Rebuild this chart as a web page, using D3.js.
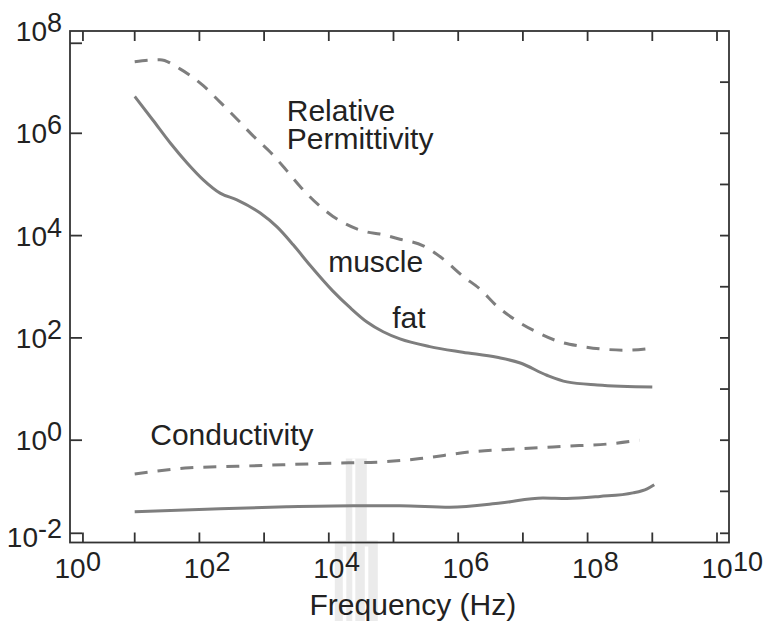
<!DOCTYPE html>
<html>
<head>
<meta charset="utf-8">
<script src="https://cdn.jsdelivr.net/npm/d3@7"></script>
<style>
  body { margin: 0; background: #fff; }
  text { font-family: "Liberation Sans", Arial, Helvetica, sans-serif; fill: #222; }
</style>
</head>
<body>
<svg id="chart" width="773" height="621"></svg>
<script>
// ---- data (log10 of frequency in Hz, log10 of value) ----
const musclePermFreq = [1.00, 1.39, 1.70, 2.06, 2.32, 2.58, 2.83, 3.09, 3.35, 3.55, 4.06, 4.59, 4.79, 5.10, 5.46, 5.77, 6.07, 6.34, 6.60, 6.91, 7.22, 7.53, 7.88, 8.24, 8.61, 9.00];
const musclePerm     = [7.40, 7.44, 7.26, 6.93, 6.61, 6.28, 5.95, 5.64, 5.27, 4.97, 4.38, 4.07, 4.03, 3.93, 3.80, 3.54, 3.21, 2.95, 2.62, 2.33, 2.11, 1.94, 1.84, 1.78, 1.76, 1.80];

const fatPermFreq = [1.00, 1.28, 1.55, 1.81, 2.06, 2.32, 2.58, 2.94, 3.20, 3.45, 3.71, 4.06, 4.33, 4.59, 4.84, 5.10, 5.56, 6.07, 6.60, 6.96, 7.37, 7.68, 8.15, 9.00];
const fatPerm     = [6.72, 6.26, 5.81, 5.42, 5.09, 4.83, 4.70, 4.44, 4.17, 3.82, 3.42, 2.92, 2.59, 2.31, 2.12, 1.98, 1.83, 1.72, 1.62, 1.51, 1.27, 1.14, 1.08, 1.04];

const muscleCondFreq = [1.00, 1.85, 2.58, 3.29, 4.02, 4.74, 5.41, 6.18, 6.91, 7.62, 8.35, 8.80];
const muscleCond     = [-0.66, -0.54, -0.51, -0.48, -0.45, -0.43, -0.36, -0.23, -0.17, -0.12, -0.07, 0.00];

const fatCondFreq = [1.00, 2.32, 3.35, 4.37, 5.10, 5.87, 6.65, 7.31, 7.68, 8.19, 8.70, 8.92, 9.03];
const fatCond     = [-1.40, -1.34, -1.30, -1.28, -1.28, -1.31, -1.23, -1.13, -1.14, -1.10, -1.03, -0.95, -0.87];

// ---- axis ticks (decade exponents) ----
const xLabelExps   = [0, 2, 4, 6, 8, 10];
const xTickExps    = [0.2, 1, 2, 3, 4, 5, 6, 7, 8, 9, 10];
const yLabelExps   = [0, 2, 4, 6, 8];
const yLabelLow    = { text: "-2", at: -1.9 };
const yLeftTicks   = [-1.82, 0, 2, 4, 6, 7.76];
const yRightTicks  = [-1.82, -1, 0, 1, 2, 3, 4, 5, 6, 7];

// ---- annotations (each entry may hold several lines) ----
const notes = [
  { lines: ["Relative", "Permittivity"], fx: 3.35, vy: 6.25 },
  { lines: ["muscle"],       fx: 3.99, vy: 3.28 },
  { lines: ["fat"],          fx: 4.98, vy: 2.19 },
  { lines: ["Conductivity"], fx: 1.24, vy: -0.09 }
];

const svg = d3.select("#chart");
const x = d3.scaleLog().domain([1, 1e10]).range([70, 717]);
const y = d3.scaleLog().domain([1e-2, 1e8]).range([542.5, 31]);
const P = e => Math.pow(10, e);

const fLeft = x(1), fRight = x(1e10) + 12, fTop = y(1e8), fBottom = y(1e-2);

// faint background mark near the 10^4 column
const wm = svg.append("g").attr("fill", "#ebebeb");
const wx = x(1e4);
wm.append("rect").attr("x", wx + 17).attr("y", fBottom - 84).attr("width", 21).attr("height", 88);
wm.append("rect").attr("x", wx + 6).attr("y", fBottom - 2).attr("width", 43).attr("height", 621 - fBottom + 2);
wm.append("rect").attr("x", wx + 23.5).attr("y", fBottom - 84).attr("width", 3).attr("height", 621 - fBottom + 84).attr("fill", "#fff");
wm.append("rect").attr("x", wx + 14).attr("y", fBottom + 4).attr("width", 3.5).attr("height", 621 - fBottom).attr("fill", "#fff");
wm.append("rect").attr("x", wx + 36).attr("y", fBottom + 4).attr("width", 3.5).attr("height", 621 - fBottom).attr("fill", "#fff");

// ---- curves ----
const line = d3.line()
  .x(d => x(P(d[0])))
  .y(d => y(P(d[1])))
  .curve(d3.curveMonotoneX);

const series = [
  { f: musclePermFreq, v: musclePerm, dashed: true },
  { f: fatPermFreq,    v: fatPerm,    dashed: false },
  { f: muscleCondFreq, v: muscleCond, dashed: true },
  { f: fatCondFreq,    v: fatCond,    dashed: false }
];
series.forEach(s => {
  svg.append("path")
    .datum(d3.zip(s.f, s.v))
    .attr("d", line)
    .attr("fill", "none")
    .attr("stroke", "#7e7e7e")
    .attr("stroke-width", 3)
    .attr("stroke-dasharray", s.dashed ? "13 10" : null)
    .attr("stroke-linecap", "butt");
});

// ---- frame and ticks ----
const frame = svg.append("g").attr("stroke", "#333").attr("stroke-width", 1.8).attr("fill", "none");
frame.append("rect").attr("x", fLeft).attr("y", fTop).attr("width", fRight - fLeft).attr("height", fBottom - fTop);

xTickExps.forEach(e => {
  const xx = x(P(e));
  frame.append("line").attr("x1", xx).attr("x2", xx).attr("y1", fBottom).attr("y2", fBottom - 10);
  frame.append("line").attr("x1", xx).attr("x2", xx).attr("y1", fTop).attr("y2", fTop + 10);
});
yLeftTicks.forEach(e => {
  const yy = y(P(e));
  frame.append("line").attr("x1", fLeft).attr("x2", fLeft + 12).attr("y1", yy).attr("y2", yy);
});
yRightTicks.forEach(e => {
  const yy = y(P(e));
  frame.append("line").attr("x1", fRight).attr("x2", fRight - 9).attr("y1", yy).attr("y2", yy);
});

// ---- tick labels ----
const baseSize = 28, supSize = 27;

xLabelExps.forEach(e => {
  const xx = x(P(e));
  const base = svg.append("text")
    .attr("x", xx).attr("y", 578)
    .attr("text-anchor", "middle")
    .attr("font-size", baseSize)
    .text("10");
  const w = base.node().getComputedTextLength();
  svg.append("text")
    .attr("x", xx + w / 2 + 0.5).attr("y", 571)
    .attr("font-size", supSize)
    .text(String(e));
});

function yLabel(text, e) {
  const t = svg.append("text")
    .attr("x", fLeft - 8).attr("y", y(P(e)) + 10)
    .attr("text-anchor", "end")
    .attr("font-size", baseSize);
  t.append("tspan").text("10");
  t.append("tspan").attr("font-size", supSize).attr("dy", -9).text(text);
}
yLabelExps.forEach(e => yLabel(String(e), e));
yLabel(yLabelLow.text, yLabelLow.at);

// ---- axis title ----
svg.append("text")
  .attr("x", x(P(5.3))).attr("y", 615)
  .attr("text-anchor", "middle")
  .attr("font-size", 30)
  .text("Frequency (Hz)");

// ---- annotations ----
notes.forEach(n => {
  const t = svg.append("text")
    .attr("x", x(P(n.fx))).attr("y", y(P(n.vy)))
    .attr("font-size", 30);
  n.lines.forEach((s, i) => {
    t.append("tspan")
      .attr("x", x(P(n.fx)))
      .attr("dy", i === 0 ? 0 : 28)
      .text(s);
  });
});
</script>
</body>
</html>
